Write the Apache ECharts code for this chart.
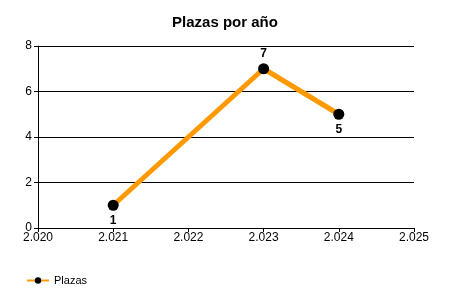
<!DOCTYPE html>
<html><head><meta charset="utf-8">
<script src="https://cdn.jsdelivr.net/npm/echarts@6/dist/echarts.min.js"></script>
<style>html,body{margin:0;padding:0;background:#fff}#c{width:450px;height:300px}</style>
</head><body><div id="c"></div>
<script>
const years = [2021, 2023, 2024];
const plazas = [1, 7, 5];
const labelPos = ['bottom', 'top', 'bottom'];
const yTicks = {min: 0, max: 8, interval: 2};
const xTicks = {min: 2020, max: 2025, interval: 1};

const fmt = v => String(v).replace(/\B(?=(\d{3})+$)/, '.');
const chart = echarts.init(document.getElementById('c'), null, {renderer: 'canvas'});
chart.setOption({
  animation: false,
  textStyle: {fontFamily: 'Liberation Sans'},
  title: {text: 'Plazas por año', left: 'center', top: 10,
    textStyle: {fontSize: 15, fontWeight: 'bold', color: '#000', fontFamily: 'Liberation Sans'}},
  grid: {left: 38, right: 36, top: 46, bottom: 72, containLabel: false},
  legend: {left: 21, top: 270, itemWidth: 22, itemHeight: 8, itemGap: 4,
    textStyle: {fontSize: 11, color: '#000'}, data: ['Plazas']},
  xAxis: {type: 'value', min: xTicks.min, max: xTicks.max, interval: xTicks.interval,
    axisLine: {lineStyle: {color: '#000'}},
    axisTick: {show: true, length: 4, lineStyle: {color: '#000'}},
    axisLabel: {formatter: fmt, color: '#000', fontSize: 12, margin: 4},
    splitLine: {show: false}},
  yAxis: {type: 'value', min: yTicks.min, max: yTicks.max, interval: yTicks.interval,
    axisLine: {show: true, lineStyle: {color: '#000'}},
    axisTick: {show: true, length: 4, lineStyle: {color: '#000'}},
    axisLabel: {color: '#000', fontSize: 12, margin: 6},
    splitLine: {show: true, lineStyle: {color: '#000', width: 1}}},
  series: [{
    name: 'Plazas', type: 'line',
    data: years.map((y, i) => ({value: [y, plazas[i]], label: {position: labelPos[i]}})),
    lineStyle: {color: '#FF9900', width: 5},
    itemStyle: {color: '#000'},
    symbol: 'circle', symbolSize: 11,
    label: {show: true, fontWeight: 'bold', fontSize: 12, color: '#000', distance: 4,
      formatter: p => p.value[1]}
  }]
});
</script></body></html>
